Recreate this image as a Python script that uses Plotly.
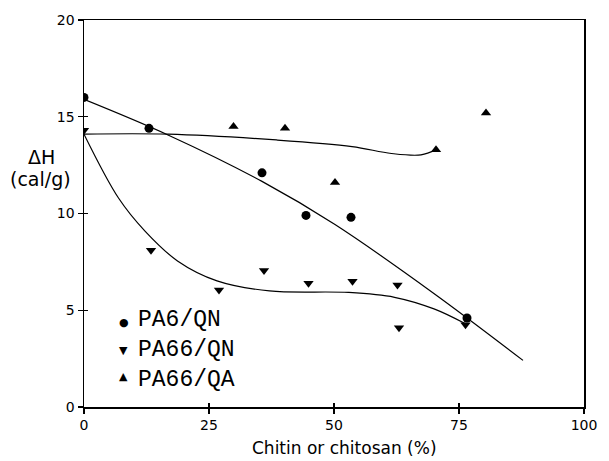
import plotly.graph_objects as go

# Measured data points
pa6_x = [0, 13.0, 35.6, 44.4, 53.4, 76.6]
pa6_y = [16.0, 14.4, 12.1, 9.9, 9.8, 4.6]

qn_x = [0, 13.4, 27.0, 36.0, 44.9, 53.7, 62.7, 63.0, 76.3]
qn_y = [14.3, 8.1, 6.05, 7.05, 6.4, 6.5, 6.3, 4.1, 4.25]

qa_x = [29.9, 40.2, 50.2, 70.4, 80.4]
qa_y = [14.5, 14.4, 11.6, 13.3, 15.2]

# Fitted curves
pa6_fit_x = [0, 16.8, 35.6, 50.2, 69.7, 87.8]
pa6_fit_y = [15.9, 14.06, 11.66, 9.43, 5.92, 2.41]

qn_fit_x = [0, 6.9, 12.2, 18.7, 26.6, 37.1, 52.9, 62.1, 70.0, 76.3]
qn_fit_y = [14.1, 10.8, 9.09, 7.55, 6.52, 6.0, 5.92, 5.67, 5.07, 4.3]

qa_fit_x = [0, 16.8, 38.5, 53.6, 61.5, 67.4, 70.4]
qa_fit_y = [14.1, 14.1, 13.8, 13.46, 13.1, 13.03, 13.3]

x_ticks = [0, 25, 50, 75, 100]
y_ticks = [0, 5, 10, 15, 20]

series_names = ["PA6/QN", "PA66/QN", "PA66/QA"]
legend_glyphs = ["\u25CF", "\u25BC", "\u25B2"]

line_style = dict(color="black", width=1.2, shape="spline", smoothing=1.0)

fig = go.Figure()
fig.add_trace(go.Scatter(x=pa6_fit_x, y=pa6_fit_y, mode="lines", line=line_style, showlegend=False))
fig.add_trace(go.Scatter(x=qn_fit_x, y=qn_fit_y, mode="lines", line=line_style, showlegend=False))
fig.add_trace(go.Scatter(x=qa_fit_x, y=qa_fit_y, mode="lines", line=line_style, showlegend=False,
                         xaxis="x2", yaxis="y2"))

fig.add_trace(go.Scatter(x=pa6_x, y=pa6_y, mode="markers", name=series_names[0],
                         marker=dict(symbol="circle", size=9, color="black"), showlegend=False))
fig.add_trace(go.Scatter(x=qn_x, y=qn_y, mode="markers", name=series_names[1],
                         marker=dict(symbol="triangle-down", size=9, color="black"), showlegend=False))
fig.add_trace(go.Scatter(x=qa_x, y=qa_y, mode="markers", name=series_names[2],
                         marker=dict(symbol="triangle-up", size=9, color="black"), showlegend=False))

sans = "DejaVu Sans, Arial, sans-serif"
tick_font = dict(family=sans, size=14, color="black")

fig.update_layout(
    width=609, height=461,
    margin=dict(l=84, r=17, t=17, b=54),
    paper_bgcolor="white", plot_bgcolor="white",
    showlegend=False,
    xaxis=dict(range=[0, 100], tickvals=x_ticks, ticks="outside", ticklen=5, tickwidth=1.2,
               tickcolor="black", showline=True, linecolor="black", linewidth=1.5, mirror=True,
               showgrid=False, zeroline=False, tickfont=tick_font),
    yaxis=dict(range=[0, 20], tickvals=y_ticks, ticks="outside", ticklen=5, tickwidth=1.2,
               tickcolor="black", showline=True, linecolor="black", linewidth=1.5, mirror=True,
               showgrid=False, zeroline=False, tickfont=tick_font),
    xaxis2=dict(overlaying="x", matches="x", anchor="y", tickvals=x_ticks, ticks="inside",
                ticklen=4, tickwidth=1.2, tickcolor="black", showticklabels=False,
                showline=False, showgrid=False, zeroline=False),
    yaxis2=dict(overlaying="y", matches="y", anchor="x", tickvals=y_ticks, ticks="inside",
                ticklen=4, tickwidth=1.2, tickcolor="black", showticklabels=False,
                showline=False, showgrid=False, zeroline=False),
)

fig.add_annotation(text="\u0394H", xref="paper", yref="paper", x=-0.086, y=0.645,
                   showarrow=False, font=dict(family=sans, size=19, color="black"),
                   xanchor="center", yanchor="middle")
fig.add_annotation(text="(cal/g)", xref="paper", yref="paper", x=-0.088, y=0.588,
                   showarrow=False, font=dict(family=sans, size=19, color="black"),
                   xanchor="center", yanchor="middle")
fig.add_annotation(text="Chitin or chitosan (%)", xref="paper", yref="paper", x=0.52, y=-0.107,
                   showarrow=False, font=dict(family=sans, size=17, color="black"),
                   yanchor="middle")

legend_y = [0.219, 0.146, 0.078]
for glyph, ly in zip(legend_glyphs, legend_y):
    fig.add_annotation(text=glyph, xref="paper", yref="paper", x=0.079, y=ly, showarrow=False,
                       font=dict(family="DejaVu Sans", size=11, color="black"),
                       xanchor="center", yanchor="middle")
fig.add_annotation(text="<br>".join(series_names), xref="paper", yref="paper",
                   x=0.103, y=sum(legend_y) / 3, showarrow=False, align="left",
                   font=dict(family="Courier New, Liberation Mono, monospace", size=23,
                             color="black"),
                   xanchor="left", yanchor="middle")

fig.write_html("out.html",
               config={"displayModeBar": False, "staticPlot": True},
               post_script="document.body.style.margin='0px';"
                           "document.body.style.overflow='hidden';")
